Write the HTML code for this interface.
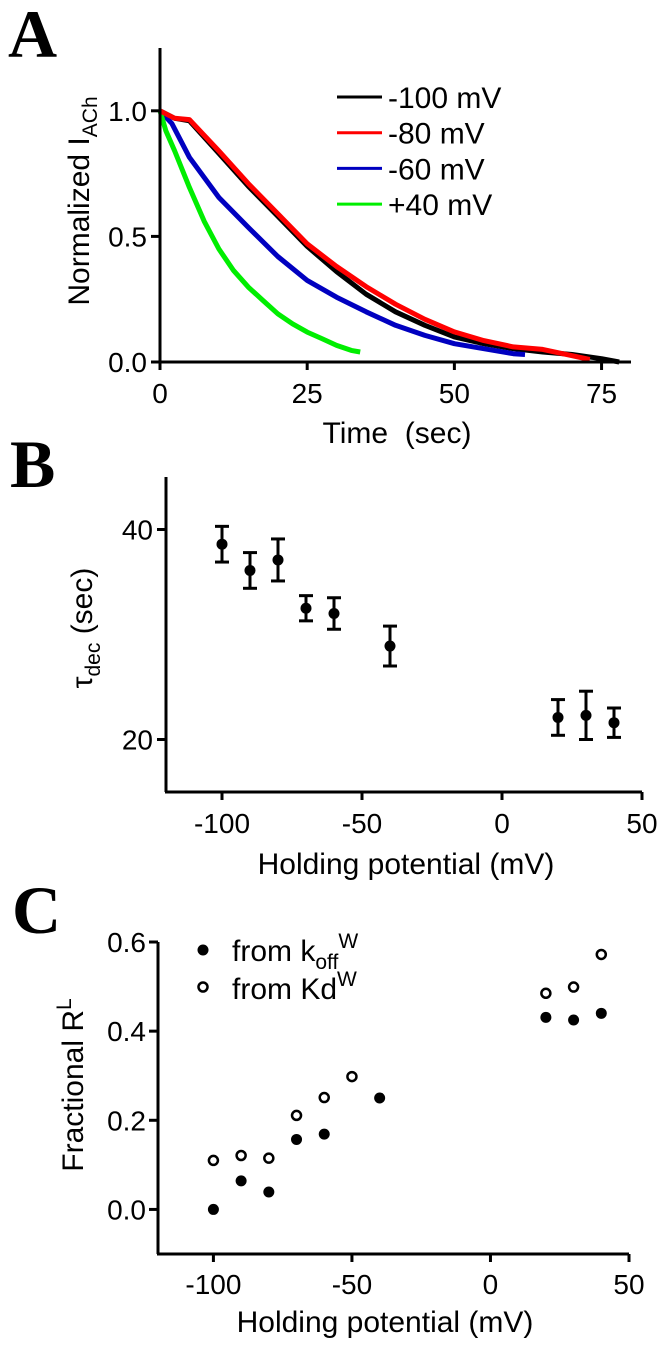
<!DOCTYPE html>
<html><head><meta charset="utf-8"><style>
html,body{margin:0;padding:0;background:#fff;}
svg{display:block;font-family:"Liberation Sans",sans-serif;}
</style></head><body>
<svg id="fig" width="664" height="1345" viewBox="0 0 664 1345" xmlns="http://www.w3.org/2000/svg">
<g id="pA"></g>
<g id="pB"></g>
<g id="pC"></g>
</svg>
<script>
// ---- Panel A data ----
const aT100 = [0,2.5,5,10,15,20,25,30,35,40,45,50,55,60,65,70,75,78];
const aV100 = [1.0,0.97,0.96,0.83,0.70,0.58,0.46,0.36,0.27,0.20,0.146,0.10,0.073,0.053,0.04,0.03,0.013,0.0];
const aT80 = [0,2.5,5,10,15,20,25,30,35,40,45,50,55,60,65,70,73];
const aV80 = [1.0,0.97,0.965,0.84,0.71,0.59,0.47,0.38,0.30,0.23,0.17,0.12,0.085,0.06,0.05,0.025,0.01];
const aT60 = [0,2,5,10,15,20,25,30,35,40,45,50,55,60,62];
const aV60 = [1.0,0.95,0.815,0.655,0.536,0.42,0.325,0.258,0.20,0.146,0.106,0.073,0.053,0.033,0.03];
const aT40 = [0,1,2.5,5,7.5,10,12.5,15,17.5,20,22.5,25,27.5,30,32.5,34];
const aV40 = [1.0,0.92,0.84,0.695,0.56,0.45,0.364,0.298,0.245,0.192,0.152,0.119,0.093,0.066,0.046,0.04];
const aXTicks = [0,25,50,75];
const aYTicks = [0.0,0.5,1.0];
const aYTickLabels = ["0.0","0.5","1.0"];
const aLegend = ["-100 mV","-80 mV","-60 mV","+40 mV"];
// ---- Panel B data ----
const bX = [-100,-90,-80,-70,-60,-40,20,30,40];
const bY = [38.6,36.1,37.1,32.5,32.0,28.9,22.1,22.3,21.6];
const bErr = [1.7,1.7,2.0,1.2,1.5,1.9,1.7,2.3,1.4];
const bXTicks = [-100,-50,0,50];
const bYTicks = [20,40];
// ---- Panel C data ----
const cX = [-100,-90,-80,-70,-60,-40,20,30,40];
const cKoff = [0.0,0.064,0.039,0.157,0.169,0.250,0.431,0.425,0.440];
const cKdX = [-100,-90,-80,-70,-60,-50,20,30,40];
const cKd = [0.110,0.121,0.115,0.211,0.251,0.298,0.485,0.499,0.572];
const cXTicks = [-100,-50,0,50];
const cYTicks = [0.0,0.2,0.4,0.6];
const cYTickLabels = ["0.0","0.2","0.4","0.6"];

const NS="http://www.w3.org/2000/svg";
const TF=28, LF=30;
function mk(parent, tag, attrs, text){
  const e=document.createElementNS(NS,tag);
  for(const k in attrs) e.setAttribute(k,attrs[k]);
  if(text!==undefined) e.textContent=text;
  parent.appendChild(e); return e;
}
function lin(d0,d1,r0,r1){return v=>r0+(v-d0)*(r1-r0)/(d1-d0);}

// ===== Panel A =====
const A=document.getElementById('pA');
const ax=lin(0,80,160,631), ay=lin(0,1.25,362,48);
let t=mk(A,'text',{x:8,y:57,'font-family':'Liberation Serif, serif','font-weight':'bold','font-size':68},'A');


const series=[[aT100,aV100,'#000'],[aT60,aV60,'#0000c0'],[aT40,aV40,'#00ee00'],[aT80,aV80,'#ff0000']];
const names=['trace-minus-100mv','trace-minus-60mv','trace-plus-40mv','trace-minus-80mv'];
series.forEach((s,i)=>{
  const pts=s[0].map((x,j)=>ax(x).toFixed(1)+','+ay(s[1][j]).toFixed(1)).join(' ');
  const p=mk(A,'polyline',{points:pts,fill:'none',stroke:s[2],'stroke-width':5,'stroke-linejoin':'round'});
  
  
});
let l=mk(A,'line',{x1:160,y1:48,x2:160,y2:362,stroke:'#000','stroke-width':3});


l=mk(A,'line',{x1:159,y1:362,x2:631,y2:362,stroke:'#000','stroke-width':3});


aXTicks.forEach(v=>{
  mk(A,'line',{x1:ax(v),y1:362,x2:ax(v),y2:370,stroke:'#000','stroke-width':3});
  const e=mk(A,'text',{x:ax(v),y:403,'text-anchor':'middle','font-size':TF},String(v));
  
  
});
aYTicks.forEach((v,i)=>{
  mk(A,'line',{x1:151,y1:ay(v),x2:160,y2:ay(v),stroke:'#000','stroke-width':3});
  const e=mk(A,'text',{x:147,y:ay(v)+10,'text-anchor':'end','font-size':TF},aYTickLabels[i]);
  
  
});
t=mk(A,'text',{x:397,y:443,'text-anchor':'middle','font-size':LF},'Time\u00a0\u00a0(sec)');


t=mk(A,'text',{transform:'translate(89,201) rotate(-90)','text-anchor':'middle','font-size':LF});


t.innerHTML='Normalized I<tspan font-size="21" dy="8">ACh</tspan>';
const legC=['#000','#ff0000','#0000c0','#00ee00'];
aLegend.forEach((s,i)=>{
  const y=97+i*35.7;
  mk(A,'line',{x1:337,y1:y,x2:382,y2:y,stroke:legC[i],'stroke-width':3});
  const e=mk(A,'text',{x:388,y:y+11,'font-size':LF},s);
  
  
});

// ===== Panel B =====
const B=document.getElementById('pB');
const bx=lin(-120,50,166,642), by=lin(15,45,792,477);
t=mk(B,'text',{x:10,y:487,'font-family':'Liberation Serif, serif','font-weight':'bold','font-size':68},'B');


bX.forEach((x,i)=>{
  const cx=bx(x), yt=by(bY[i]+bErr[i]), yb=by(bY[i]-bErr[i]);
  const g=mk(B,'g',{});
  
  
  mk(g,'line',{x1:cx,y1:yt,x2:cx,y2:yb,stroke:'#000','stroke-width':3});
  mk(g,'line',{x1:cx-7,y1:yt,x2:cx+7,y2:yt,stroke:'#000','stroke-width':3});
  mk(g,'line',{x1:cx-7,y1:yb,x2:cx+7,y2:yb,stroke:'#000','stroke-width':3});
  mk(g,'circle',{cx:cx,cy:by(bY[i]),r:5.5,fill:'#000'});
});
l=mk(B,'line',{x1:166,y1:477,x2:166,y2:792,stroke:'#000','stroke-width':3});


l=mk(B,'line',{x1:165,y1:792,x2:642,y2:792,stroke:'#000','stroke-width':3});


bXTicks.forEach(v=>{
  mk(B,'line',{x1:bx(v),y1:792,x2:bx(v),y2:800,stroke:'#000','stroke-width':3});
  const e=mk(B,'text',{x:bx(v),y:833,'text-anchor':'middle','font-size':TF},String(v));
  
  
});
bYTicks.forEach(v=>{
  mk(B,'line',{x1:157,y1:by(v),x2:166,y2:by(v),stroke:'#000','stroke-width':3});
  const e=mk(B,'text',{x:153,y:by(v)+10,'text-anchor':'end','font-size':TF},String(v));
  
  
});
t=mk(B,'text',{x:406,y:874,'text-anchor':'middle','font-size':LF},'Holding potential (mV)');


t=mk(B,'text',{transform:'translate(92,628) rotate(-90)','text-anchor':'middle','font-size':LF});


t.innerHTML='τ<tspan font-size="21" dy="8">dec</tspan><tspan dy="-8"> (sec)</tspan>';

// ===== Panel C =====
const C=document.getElementById('pC');
const cx_=lin(-120,50,158,629), cy_=lin(-0.1,0.6,1254,942);
t=mk(C,'text',{x:12,y:933,'font-family':'Liberation Serif, serif','font-weight':'bold','font-size':68},'C');


cX.forEach((x,i)=>{
  const e=mk(C,'circle',{cx:cx_(x),cy:cy_(cKoff[i]),r:5.5,fill:'#000'});
  
  
});
cKdX.forEach((x,i)=>{
  const e=mk(C,'circle',{cx:cx_(x),cy:cy_(cKd[i]),r:4.5,fill:'#fff',stroke:'#000','stroke-width':2.5});
  
  
});
l=mk(C,'line',{x1:158,y1:942,x2:158,y2:1254,stroke:'#000','stroke-width':3});


l=mk(C,'line',{x1:157,y1:1254,x2:629,y2:1254,stroke:'#000','stroke-width':3});


cXTicks.forEach(v=>{
  mk(C,'line',{x1:cx_(v),y1:1254,x2:cx_(v),y2:1262,stroke:'#000','stroke-width':3});
  const e=mk(C,'text',{x:cx_(v),y:1294,'text-anchor':'middle','font-size':TF},String(v));
  
  
});
cYTicks.forEach((v,i)=>{
  mk(C,'line',{x1:149,y1:cy_(v),x2:158,y2:cy_(v),stroke:'#000','stroke-width':3});
  const e=mk(C,'text',{x:146,y:cy_(v)+10,'text-anchor':'end','font-size':TF},cYTickLabels[i]);
  
  
});
t=mk(C,'text',{x:385,y:1332,'text-anchor':'middle','font-size':LF},'Holding potential (mV)');


t=mk(C,'text',{transform:'translate(83,1085) rotate(-90)','text-anchor':'middle','font-size':LF});


t.innerHTML='Fractional R<tspan font-size="21" dy="-12">L</tspan>';
let e=mk(C,'circle',{cx:203,cy:950,r:5.5,fill:'#000'});


e=mk(C,'circle',{cx:203,cy:987,r:4.5,fill:'#fff',stroke:'#000','stroke-width':2.5});


t=mk(C,'text',{x:232,y:961,'font-size':LF});


t.innerHTML='from k<tspan font-size="21" dy="8">off</tspan><tspan font-size="21" dy="-21">W</tspan>';
t=mk(C,'text',{x:232,y:999,'font-size':LF});


t.innerHTML='from Kd<tspan font-size="21" dy="-13">W</tspan>';
</script>
</body></html>
